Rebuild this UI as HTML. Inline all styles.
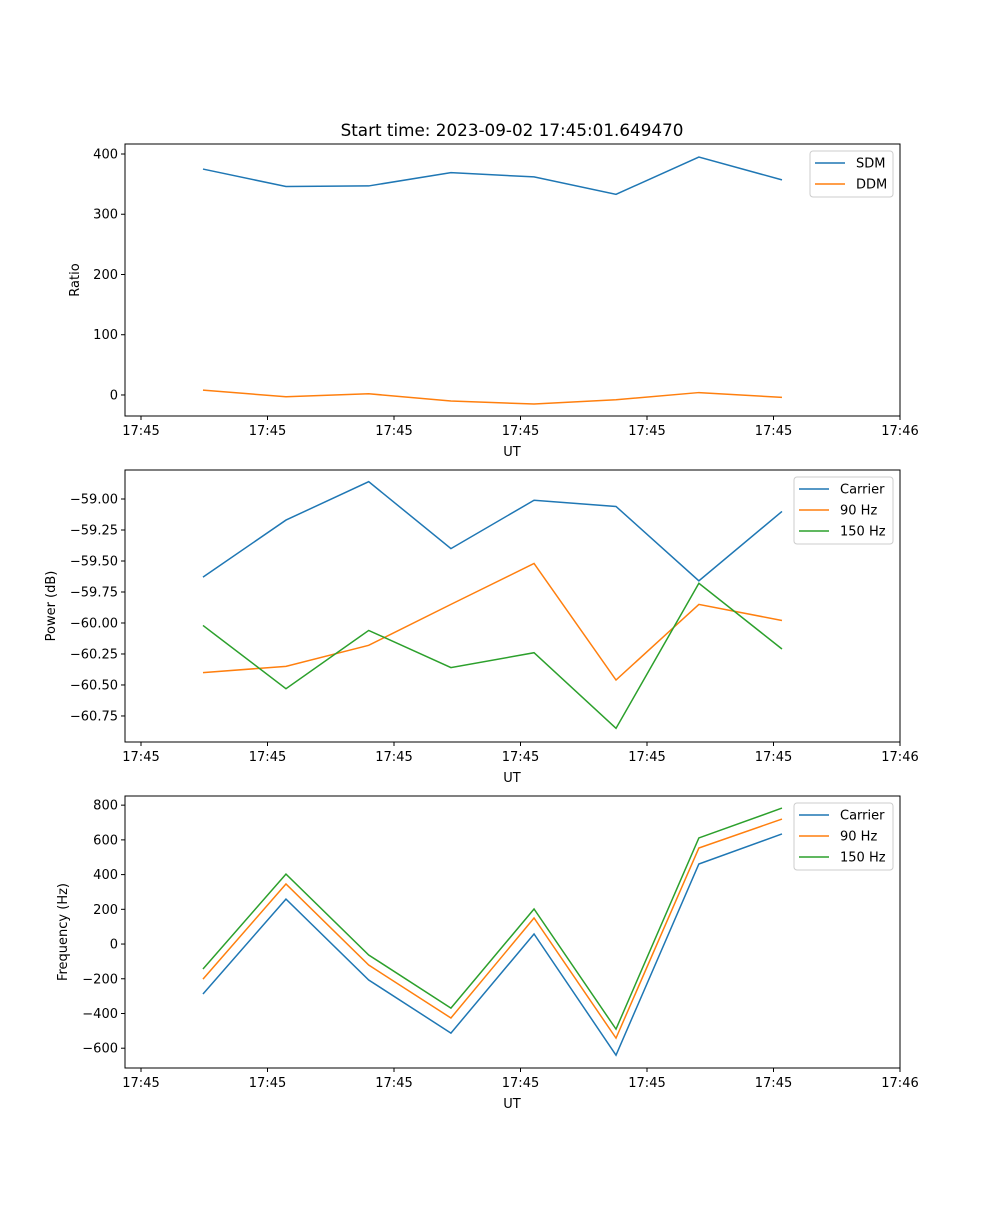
<!DOCTYPE html>
<html><head><meta charset="utf-8"><style>
body{margin:0;background:#fff;}
svg text{font-family:"DejaVu Sans","Liberation Sans",sans-serif;font-size:13px;fill:#000;}
</style></head><body>
<svg id="c" width="1000" height="1200" xmlns="http://www.w3.org/2000/svg">
<text x="512" y="136" text-anchor="middle" style="font-size:16.8px">Start time: 2023-09-02 17:45:01.649470</text>
</svg>
<script>
const times=[4.9,11.46,18.0,24.5,31.07,37.55,44.1,50.67];
const xTicks=[0,10,20,30,40,50,60];
const xTickLabels=["17:45","17:45","17:45","17:45","17:45","17:45","17:46"];
const sdm=[375,346,347,369,362,333,395,357];
const ddm=[8,-3,2,-10,-15,-8,4,-4];
const powCarrier=[-59.63,-59.17,-58.86,-59.40,-59.01,-59.06,-59.66,-59.10];
const pow90=[-60.40,-60.35,-60.18,-59.85,-59.52,-60.46,-59.85,-59.98];
const pow150=[-60.02,-60.53,-60.06,-60.36,-60.24,-60.85,-59.68,-60.21];
const freqCarrier=[-288,259,-207,-513,58,-640,461,634];
const freq90=[-202,346,-121,-426,150,-542,553,720];
const freq150=[-144,403,-63,-369,202,-490,611,783];
const ratioTicks=[0,100,200,300,400];
const powTicks=[-60.75,-60.5,-60.25,-60.0,-59.75,-59.5,-59.25,-59.0];
const freqTicks=[-600,-400,-200,0,200,400,600,800];

const NS="http://www.w3.org/2000/svg";
const svg=document.getElementById('c');
const C=['#1f77b4','#ff7f0e','#2ca02c'];
function mk(t,a,p){const e=document.createElementNS(NS,t);for(const k in a)e.setAttribute(k,a[k]);(p||svg).appendChild(e);return e;}
const L=125,R=900;
function xs(t){return 141+t*12.65;}
function panel(name,top,bot,ymin,ymax,yTicks,fmt,ylabel,ylx,series,labels,leg){
  const g=mk('g',{});
  
  
  const ys=v=>bot-(v-ymin)/(ymax-ymin)*(bot-top);
  series.forEach((s,i)=>{
    const p=mk('polyline',{points:s.map((v,j)=>xs(times[j])+','+ys(v)).join(' '),fill:'none',stroke:C[i],'stroke-width':1.5},g);
    
    
  });
  const f=mk('rect',{x:L,y:top,width:R-L,height:bot-top,fill:'none',stroke:'#000','stroke-width':1},g);
  
  
  xTicks.forEach((t,i)=>{const x=xs(t);mk('line',{x1:x,x2:x,y1:bot,y2:bot+4,stroke:'#000'},g);
    const tx=mk('text',{x:x,y:bot+19,'text-anchor':'middle'},g);tx.textContent=xTickLabels[i];
    
    });
  yTicks.forEach(v=>{const y=ys(v);mk('line',{x1:L-4,x2:L,y1:y,y2:y,stroke:'#000'},g);
    const tx=mk('text',{x:L-7,y:y+4.5,'text-anchor':'end'},g);tx.textContent=fmt(v).replace('-','\u2212');
    
    });
  const xl=mk('text',{x:512,y:bot+40,'text-anchor':'middle'},g);xl.textContent='UT';
  
  
  const yc=(top+bot)/2;
  const yl=mk('text',{x:ylx,y:yc,'text-anchor':'middle',transform:'rotate(-90 '+ylx+' '+yc+')'},g);yl.textContent=ylabel;
  
  
  const lg=mk('g',{},g);
  
  
  mk('rect',{x:leg[0],y:top+7,width:leg[1],height:labels.length*21+4,rx:3,fill:'#fff',stroke:'#ccc'},lg);
  labels.forEach((lb,i)=>{const y=top+19+i*21;
    mk('line',{x1:leg[0]+5,x2:leg[0]+35,y1:y,y2:y,stroke:C[i],'stroke-width':1.5},lg);
    const t=mk('text',{x:leg[0]+46,y:y+4.5},lg);t.textContent=lb;
    
    });
}
panel('ratio',144,416,-34.9,416.6,ratioTicks,v=>String(v),'Ratio',79,[sdm,ddm],['SDM','DDM'],[810,83]);
panel('power',470,742,-60.96,-58.766,powTicks,v=>v.toFixed(2),'Power (dB)',55,[powCarrier,pow90,pow150],['Carrier','90 Hz','150 Hz'],[794,99]);
panel('frequency',796,1068,-714,852.7,freqTicks,v=>String(v),'Frequency (Hz)',67,[freqCarrier,freq90,freq150],['Carrier','90 Hz','150 Hz'],[794,99]);
</script>
</body></html>
